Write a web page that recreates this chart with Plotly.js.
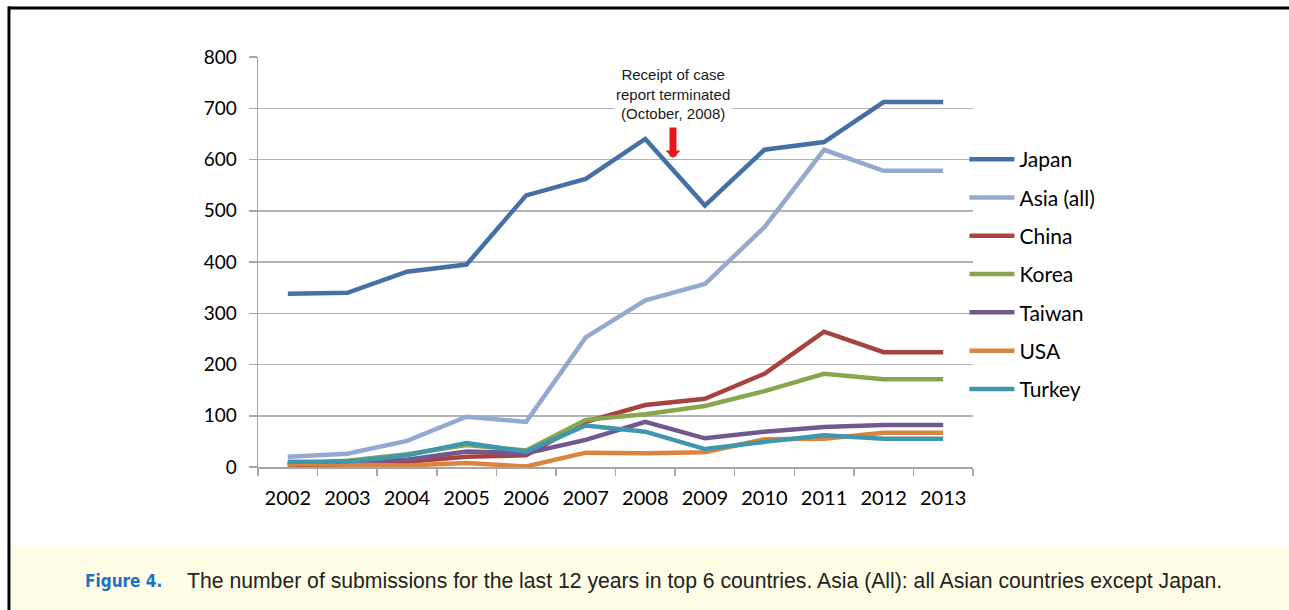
<!DOCTYPE html>
<html>
<head>
<meta charset="utf-8">
<script src="https://cdn.plot.ly/plotly-3.0.1.min.js"></script>
<style>
  html, body { margin: 0; padding: 0; background: #ffffff; }
  #chart { width: 1289px; height: 610px; }
</style>
</head>
<body>
<div id="chart"></div>
<script>
const years  = [2002, 2003, 2004, 2005, 2006, 2007, 2008, 2009, 2010, 2011, 2012, 2013];
const japan  = [338, 340, 381, 395, 530, 562, 640, 510, 619, 634, 712, 712];
const asia   = [20, 26, 51, 98, 88, 253, 325, 357, 468, 619, 578, 578];
const china  = [5, 2, 10, 20, 23, 88, 121, 133, 182, 264, 224, 224];
const korea  = [5, 12, 25, 43, 32, 92, 103, 119, 148, 182, 171, 171];
const taiwan = [8, 10, 14, 30, 27, 53, 88, 56, 69, 78, 82, 82];
const usa    = [6, 4, 3, 8, 1, 28, 27, 29, 54, 55, 67, 67];
const turkey = [10, 10, 23, 47, 30, 81, 69, 35, 49, 62, 55, 55];
const seriesNames  = ['Japan', 'Asia (all)', 'China', 'Korea', 'Taiwan', 'USA', 'Turkey'];
const seriesValues = [japan, asia, china, korea, taiwan, usa, turkey];
const seriesColors = ['#4470a6', '#93a9d0', '#a8423f', '#89a54e', '#71588f', '#db843d', '#3f97af'];
const yTicks = [0, 100, 200, 300, 400, 500, 600, 700, 800];
const noteText = 'Receipt of case<br>report terminated<br>(October, 2008)';
const captionLabel = 'Figure 4.';
const captionText = 'The number of submissions for the last 12 years in top 6 countries. Asia (All): all Asian countries except Japan.';

const axisFont = 'Lato, "Liberation Sans", Arial, sans-serif';

const traces = seriesNames.map((n, i) => ({
  type: 'scatter',
  mode: 'lines',
  name: n,
  x: years,
  y: seriesValues[i],
  legendgroup: 'g' + i,
  line: { color: seriesColors[i], width: 4.5 },
  hoverinfo: 'x+y+name'
}));

const halfYears = years.concat([years[years.length - 1] + 1]).map(v => v - 0.5);

const layout = {
  width: 1289,
  height: 610,
  margin: { l: 258, r: 316, t: 57, b: 143 },
  paper_bgcolor: '#ffffff',
  plot_bgcolor: '#ffffff',
  showlegend: true,
  legend: {
    x: 0.988, xanchor: 'left',
    y: 0.80, yanchor: 'top',
    font: { family: axisFont, size: 21, color: '#000000' },
    tracegroupgap: 8,
    itemwidth: 45,
    bgcolor: 'rgba(0,0,0,0)'
  },
  xaxis: {
    range: [2001.5, 2013.5],
    tickvals: years,
    ticktext: years.map(String),
    ticks: '',
    showgrid: false,
    zeroline: false,
    showline: true,
    linecolor: '#a6a6a6',
    linewidth: 1.5,
    ticklabelstandoff: 12,
    tickfont: { family: axisFont, size: 20, color: '#000000' },
    minor: { tickvals: halfYears, ticks: 'outside', ticklen: 7, tickcolor: '#a6a6a6', tickwidth: 1.5, showgrid: false }
  },
  yaxis: {
    range: [0, 800],
    tickvals: yTicks,
    ticks: 'outside',
    ticklen: 8,
    tickcolor: '#a6a6a6',
    tickwidth: 1.5,
    showgrid: true,
    gridcolor: '#b3b3b3',
    gridwidth: 1.5,
    zeroline: false,
    showline: true,
    linecolor: '#a6a6a6',
    linewidth: 1.5,
    ticklabelstandoff: 8,
    tickfont: { family: axisFont, size: 19, color: '#000000' }
  },
  shapes: [
    { type: 'rect', xref: 'paper', yref: 'paper', x0: -0.3455, x1: 1.45, y0: -0.1902, y1: -0.36, fillcolor: '#fefce5', line: { width: 0 }, layer: 'below' },
    { type: 'line', xref: 'paper', yref: 'paper', x0: -0.3497, x1: 1.45, y0: 1.1195, y1: 1.1195, line: { color: '#000000', width: 3 } },
    { type: 'line', xref: 'paper', yref: 'paper', x0: -0.3483, x1: -0.3483, y0: 1.123, y1: -0.36, line: { color: '#000000', width: 3 } }
  ],
  annotations: [
    {
      x: 2008.465, y: 728, xref: 'x', yref: 'y',
      text: noteText, showarrow: false,
      font: { family: '"Liberation Sans", Arial, sans-serif', size: 15, color: '#1a1a1a' },
      bgcolor: '#ffffff', borderpad: 1, align: 'center',
      xanchor: 'center', yanchor: 'middle'
    },
    {
      x: 2008.465, y: 603, xref: 'x', yref: 'y',
      text: '', showarrow: true,
      ax: 0, ay: -32, axref: 'pixel', ayref: 'pixel',
      arrowcolor: '#e8141c', arrowwidth: 7, arrowhead: 1, arrowsize: 0.36
    },
    {
      x: (164 - 258) / 715, y: (467 - 581) / 410, xref: 'paper', yref: 'paper',
      text: '<b>' + captionLabel + '</b>', showarrow: false,
      xanchor: 'right', yanchor: 'middle',
      font: { family: '"DejaVu Sans Condensed", "Liberation Sans Narrow", "Arial Narrow", "Liberation Sans", sans-serif', size: 17, color: '#1a72c0' }
    },
    {
      x: (185 - 258) / 715, y: (467 - 581) / 410, xref: 'paper', yref: 'paper',
      text: captionText, showarrow: false,
      xanchor: 'left', yanchor: 'middle',
      font: { family: '"Liberation Sans", Arial, sans-serif', size: 21.2, color: '#222222' }
    }
  ]
};

Plotly.newPlot('chart', traces, layout, { displayModeBar: false, staticPlot: true });
</script>
</body>
</html>
